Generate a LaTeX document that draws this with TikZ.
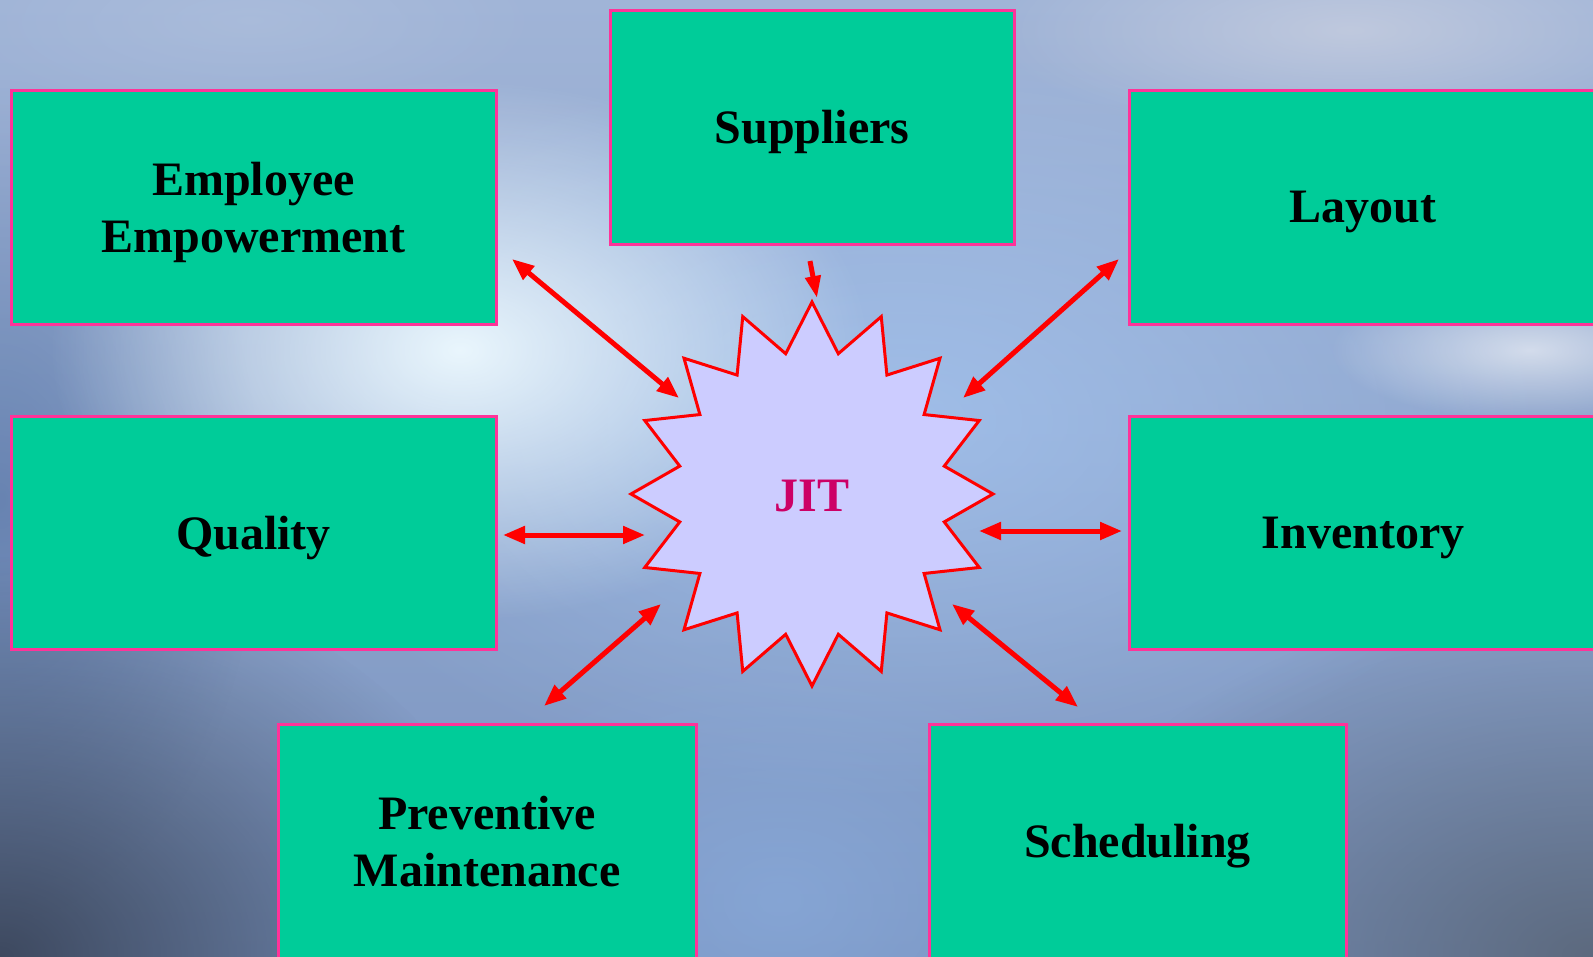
\documentclass[tikz,border=0pt]{standalone}
\usepackage{fontspec}
\setmainfont{Liberation Serif}
\usetikzlibrary{arrows.meta,fadings}

\definecolor{boxfill}{RGB}{0,204,153}
\definecolor{boxline}{RGB}{255,51,153}
\definecolor{starfill}{RGB}{204,204,255}
\definecolor{jitred}{RGB}{204,0,102}
\definecolor{skytop}{RGB}{160,180,215}
\definecolor{skymid}{RGB}{155,188,232}
\definecolor{skylow}{RGB}{122,148,192}

\tikzfading[name=haze, inner color=transparent!0, outer color=transparent!100]

\tikzset{
  block/.style={draw=boxline, line width=3pt, fill=boxfill, inner sep=0pt, text depth=0pt,
    align=center, font=\fontsize{48}{57}\selectfont\bfseries},
  link/.style={red, line width=5pt, {Triangle[length=22pt,width=17pt]}-{Triangle[length=22pt,width=17pt]}},
  cloud/.style={path fading=haze},
}

\begin{document}
\begin{tikzpicture}[x=1pt,y=-1pt]
    \useasboundingbox (0,0) rectangle (1593,956);
    \clip (0,0) rectangle (1593,956);

    % arrow ends
    \coordinate (EE1) at (512, 259);
    \coordinate (EE2) at (679, 398);
    \coordinate (Q1) at (503, 535);
    \coordinate (Q2) at (645, 535);
    \coordinate (PM1) at (544, 706);
    \coordinate (PM2) at (661, 604);
    \coordinate (L1) at (1119, 259);
    \coordinate (L2) at (963, 398);
    \coordinate (I1) at (979, 531);
    \coordinate (I2) at (1122, 531);
    \coordinate (SC1) at (952, 604);
    \coordinate (SC2) at (1078, 707);
    \coordinate (S1) at (810, 261);
    \coordinate (S2) at (817, 298);

    % sky
    \shade[top color=skytop, middle color=skymid, bottom color=skylow] (0,0) rectangle (1593,956);
    \fill[cloud, fill={rgb,255:red,80;green,110;blue,160}, fill opacity=0.6] (0,500) ellipse (260 and 420); % left
    \fill[cloud, fill={rgb,255:red,55;green,65;blue,85}, fill opacity=0.9] (0,956) ellipse (520 and 400); % bottom left
    \fill[cloud, fill={rgb,255:red,85;green,95;blue,110}, fill opacity=0.8] (1593,956) ellipse (560 and 360); % bottom right
    \fill[cloud, fill={rgb,255:red,170;green,205;blue,250}, fill opacity=0.6] (900,420) ellipse (650 and 380);
    \fill[cloud, fill={rgb,255:red,140;green,175;blue,225}, fill opacity=0.6] (780,900) ellipse (340 and 260);
    \fill[cloud, fill={rgb,255:red,238;green,250;blue,255}, fill opacity=0.95] (460,350) ellipse (410 and 270); % glow
    \fill[cloud, fill={rgb,255:red,205;green,210;blue,225}, fill opacity=0.7] (1350,30) ellipse (360 and 110);
    \fill[cloud, fill=white, fill opacity=0.6] (1530,350) ellipse (200 and 70);
    \fill[cloud, fill={rgb,255:red,185;green,200;blue,225}, fill opacity=0.4] (250,20) ellipse (300 and 100);

    % boxes
    \node[block, minimum width=485pt, minimum height=234pt] (emp) at (253.5, 207) {Employee\\Empowerment};
    \node[block, minimum width=404pt, minimum height=234pt] (sup) at (812, 127) {Suppliers};
    \node[block, minimum width=468pt, minimum height=234pt] (lay) at (1363, 207) {Layout};
    \node[block, minimum width=485pt, minimum height=233pt] (qual) at (253.5, 532.5) {Quality};
    \node[block, minimum width=468pt, minimum height=233pt] (inv) at (1363, 532.5) {Inventory};
    \node[block, minimum width=418pt, minimum height=234pt] (prev) at (487, 841) {Preventive\\Maintenance};
    \node[block, minimum width=417pt, minimum height=234pt] (sched) at (1137.5, 841) {Scheduling};

    % star
    \draw[red, line width=3pt, fill=starfill, line join=miter] (812, 302)
      \foreach \k [evaluate=\k as \r using {isodd(\k) ? 0.745 : 1}] in {1,...,31} {
        -- ({812+181*\r*cos(90+11.25*\k)}, {494-192*\r*sin(90+11.25*\k)})
      } -- cycle;
    \node[font=\fontsize{48}{57}\selectfont\bfseries, text=jitred] (jit) at (812, 496) {JIT};

    \draw[link] (EE1) -- (EE2);
    \draw[link] (Q1) -- (Q2);
    \draw[link] (PM1) -- (PM2);
    \draw[link] (L1) -- (L2);
    \draw[link] (I1) -- (I2);
    \draw[link] (SC1) -- (SC2);
    \draw[link, {Triangle[length=22pt,width=15pt]}-] (S2) -- (S1); % one way only
\end{tikzpicture}
\end{document}
